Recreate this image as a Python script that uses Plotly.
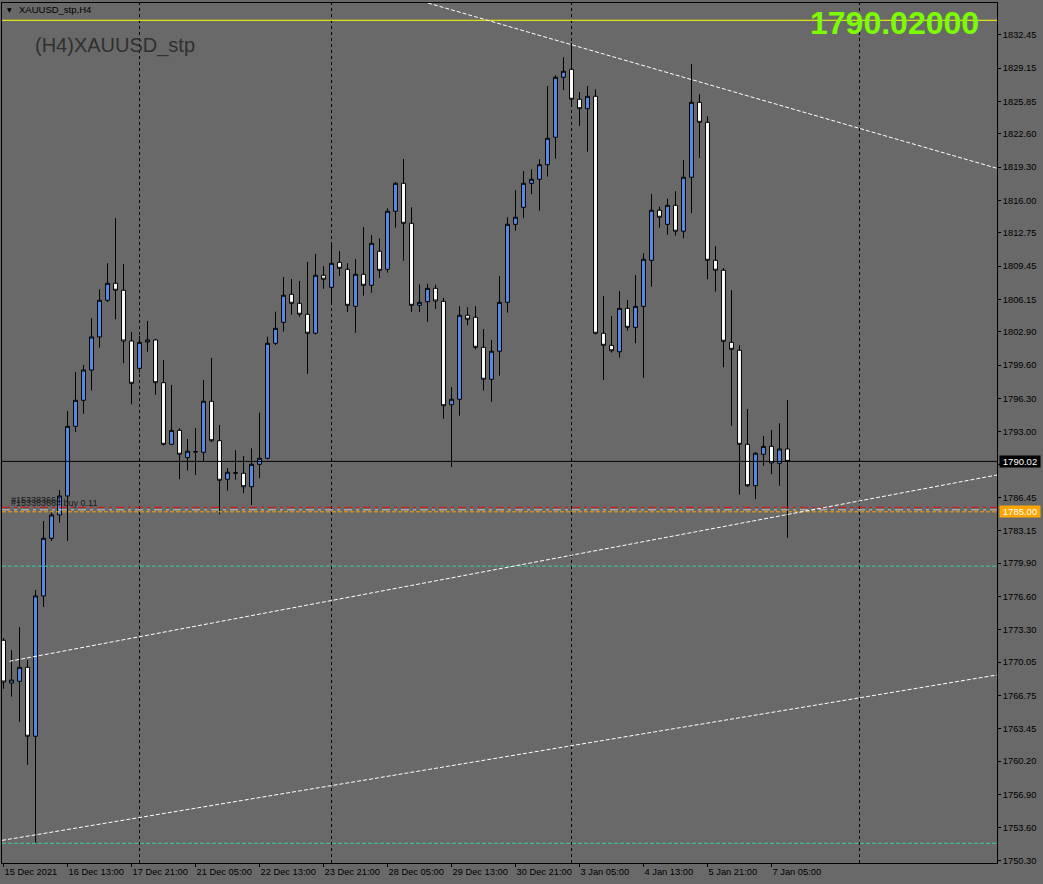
import plotly.graph_objects as go

# ---------------- data ----------------
bar_index = list(range(99))
open_ = [1772.22, 1767.97, 1768.14, 1769.53, 1762.67, 1776.63, 1782.37, 1784.69, 1786.58, 1793.51,
         1796.10, 1799.11, 1802.40, 1806.05, 1807.74, 1807.05, 1802.00, 1799.28, 1801.90, 1802.10,
         1797.85, 1791.72, 1793.11, 1790.39, 1791.00, 1790.93, 1796.00, 1792.08, 1788.24, 1788.90,
         1788.84, 1787.50, 1789.73, 1790.33, 1801.77, 1803.86, 1806.65, 1805.75, 1804.66, 1802.77,
         1808.54, 1807.34, 1809.83, 1809.13, 1805.45, 1808.64, 1807.54, 1810.93, 1809.13, 1814.91,
         1817.69, 1813.71, 1805.55, 1805.91, 1807.24, 1805.95, 1795.66, 1796.20, 1804.56, 1804.36,
         1801.37, 1798.19, 1800.98, 1805.85, 1813.61, 1815.30, 1817.69, 1818.09, 1819.54, 1822.27,
         1828.24, 1829.03, 1826.05, 1825.11, 1826.35, 1802.77, 1801.57, 1800.93, 1805.25, 1803.36,
         1805.45, 1810.03, 1815.01, 1813.61, 1815.50, 1812.92, 1818.29, 1825.75, 1823.76, 1810.03,
         1809.04, 1801.87, 1801.08, 1791.72, 1787.60, 1790.73, 1791.52, 1789.83, 1791.25]
high = [1772.45, 1771.25, 1773.54, 1770.26, 1777.22, 1784.09, 1785.02, 1787.17, 1795.04, 1798.92,
        1799.61, 1804.26, 1807.14, 1809.73, 1814.24, 1809.66, 1802.90, 1802.50, 1803.99, 1802.20,
        1800.11, 1797.62, 1793.31, 1792.25, 1793.34, 1798.12, 1800.31, 1793.64, 1789.36, 1791.15,
        1790.56, 1791.32, 1794.87, 1802.43, 1804.92, 1808.37, 1808.17, 1807.97, 1809.86, 1810.66,
        1809.46, 1811.82, 1810.96, 1809.73, 1810.16, 1813.34, 1812.55, 1812.20, 1815.20, 1817.82,
        1820.11, 1815.30, 1807.64, 1807.70, 1807.60, 1806.28, 1797.42, 1805.48, 1805.35, 1805.48,
        1803.19, 1802.10, 1808.47, 1814.31, 1817.00, 1818.89, 1819.08, 1820.08, 1827.37, 1828.44,
        1830.23, 1831.65, 1826.78, 1827.37, 1827.04, 1806.48, 1804.49, 1806.98, 1806.08, 1808.57,
        1810.73, 1816.63, 1815.36, 1816.16, 1816.90, 1820.01, 1829.56, 1826.55, 1824.36, 1811.42,
        1809.26, 1807.07, 1801.57, 1795.23, 1790.95, 1792.55, 1793.14, 1793.81, 1796.13]
low = [1767.40, 1766.61, 1764.12, 1759.84, 1752.02, 1775.53, 1782.10, 1783.92, 1782.10, 1792.95,
       1794.77, 1797.06, 1801.33, 1805.88, 1804.16, 1799.78, 1795.70, 1798.82, 1800.93, 1796.66,
       1791.60, 1791.65, 1788.24, 1789.10, 1788.67, 1790.03, 1791.95, 1784.76, 1787.11, 1788.20,
       1786.85, 1785.68, 1788.34, 1790.20, 1801.60, 1802.93, 1804.62, 1804.42, 1798.72, 1802.65,
       1807.20, 1805.65, 1808.47, 1804.89, 1802.83, 1806.51, 1806.81, 1808.30, 1808.80, 1813.27,
       1809.99, 1804.89, 1804.89, 1803.92, 1805.21, 1794.27, 1789.46, 1794.57, 1803.56, 1801.17,
       1797.06, 1795.96, 1798.55, 1804.82, 1812.98, 1814.21, 1816.60, 1814.97, 1818.35, 1820.14,
       1826.97, 1825.31, 1823.39, 1820.84, 1802.65, 1798.12, 1800.84, 1800.34, 1803.03, 1801.77,
       1798.35, 1807.40, 1813.27, 1812.58, 1812.48, 1812.22, 1814.71, 1820.24, 1808.14, 1806.91,
       1799.38, 1793.57, 1786.71, 1787.47, 1786.25, 1789.59, 1788.74, 1787.60, 1782.43]
close = [1768.07, 1768.27, 1769.53, 1762.67, 1776.63, 1782.37, 1784.69, 1786.58, 1793.51, 1796.10,
         1799.11, 1802.40, 1806.05, 1807.74, 1807.05, 1802.00, 1797.79, 1801.87, 1802.10, 1797.85,
         1791.72, 1793.11, 1790.73, 1791.03, 1790.97, 1796.00, 1792.08, 1788.14, 1788.94, 1788.85,
         1787.50, 1789.73, 1790.33, 1801.77, 1803.26, 1806.55, 1805.75, 1804.66, 1802.77, 1808.54,
         1808.14, 1809.73, 1809.23, 1805.55, 1808.64, 1807.54, 1811.72, 1809.03, 1814.91, 1817.69,
         1813.71, 1805.55, 1805.85, 1807.24, 1805.98, 1795.56, 1796.20, 1804.56, 1804.16, 1801.37,
         1798.19, 1800.98, 1805.85, 1813.61, 1814.31, 1817.69, 1818.09, 1819.54, 1822.17, 1828.24,
         1828.84, 1826.05, 1825.11, 1826.35, 1802.77, 1801.57, 1801.03, 1805.25, 1803.36, 1805.45,
         1810.13, 1815.01, 1814.31, 1815.50, 1812.92, 1818.29, 1825.75, 1823.76, 1810.03, 1809.04,
         1801.97, 1801.17, 1791.72, 1787.60, 1790.83, 1791.52, 1789.86, 1791.25, 1790.02]

time_tick_bars = [0, 8, 16, 24, 32, 40, 48, 56, 64, 72, 80, 88, 96]
time_tick_labels = ["15 Dec 2021", "16 Dec 13:00", "17 Dec 21:00", "21 Dec 05:00", "22 Dec 13:00",
                    "23 Dec 21:00", "28 Dec 05:00", "29 Dec 13:00", "30 Dec 21:00", "3 Jan 05:00",
                    "4 Jan 13:00", "5 Jan 21:00", "7 Jan 05:00"]
price_ticks = [1750.30, 1753.60, 1756.90, 1760.20, 1763.45, 1766.75, 1770.05, 1773.30, 1776.60,
               1779.90, 1783.15, 1786.45, 1789.70, 1793.00, 1796.30, 1799.60, 1802.90, 1806.15,
               1809.45, 1812.75, 1816.00, 1819.30, 1822.60, 1825.85, 1829.15, 1832.45]
grid_bars = [17, 41, 71, 107]

bid_price = 1790.02
order_price = 1785.00
sl_price = 1785.45
open_line_price = 1785.20
yellow_level = 1833.91
green_levels = [1779.60, 1752.02]

# trend lines: (bar0, price0, bar1, price1)
trend_down = [53.06, 1835.63, 124.19, 1819.18]
trend_up_upper = [0.73, 1770.13, 124.19, 1788.67]
trend_up_lower = [-0.19, 1752.31, 124.19, 1768.77]

x_range = [-0.19, 124.19]
y_range = [1750.06, 1835.63]

# ---------------- styling ----------------
BG = "#696969"
BLUE = "#5A8CE6"
FONT = "Liberation Sans, Arial, sans-serif"

fig = go.Figure()
fig.add_trace(go.Candlestick(
    x=bar_index, open=open_, high=high, low=low, close=close,
    increasing=dict(fillcolor=BLUE, line=dict(color="black", width=1)),
    decreasing=dict(fillcolor="white", line=dict(color="black", width=1)),
    whiskerwidth=0, hoverinfo="skip", showlegend=False,
))

shapes = []
for g in grid_bars:
    shapes.append(dict(type="line", xref="x", yref="paper", x0=g, x1=g, y0=0, y1=1,
                       line=dict(color="black", width=1, dash="3px,3px"), layer="below"))


def hline(price, color, dash="solid", width=1):
    return dict(type="line", xref="paper", yref="y", x0=0, x1=1, y0=price, y1=price,
                line=dict(color=color, width=width, dash=dash), layer="above")


shapes.append(hline(yellow_level, "#FFFF00", "solid", 1))
shapes.append(hline(bid_price, "black", "solid", 1))
shapes.append(hline(sl_price, "#E01010", "8px,4px,3px,4px", 1))
shapes.append(hline(open_line_price, "#C8C8C8", "8px,4px,3px,4px", 1))
shapes.append(hline(order_price, "#FFA500", "4px,2px", 1))
for gl in green_levels:
    shapes.append(hline(gl, "#3DCCA0", "4px,2px", 1))

for tl in (trend_down, trend_up_upper, trend_up_lower):
    shapes.append(dict(type="line", xref="x", yref="y", x0=tl[0], y0=tl[1], x1=tl[2], y1=tl[3],
                       line=dict(color="white", width=1, dash="4px,2px"), layer="above"))

annotations = [
    dict(text="1790.02", xref="paper", yref="y", x=1, y=bid_price, xanchor="left", yanchor="middle",
         xshift=2, showarrow=False, bgcolor="black", width=40, height=11, borderpad=0,
         font=dict(family=FONT, size=9.5, color="white")),
    dict(text="1785.00", xref="paper", yref="y", x=1, y=order_price, xanchor="left", yanchor="middle",
         xshift=2, showarrow=False, bgcolor="#FFA500", width=40, height=11, borderpad=0,
         font=dict(family=FONT, size=9.5, color="white")),
    dict(text="<b>1790.02000</b>", xref="paper", yref="paper", x=(808 - 2) / 995, y=(863 - 23) / 860,
         xanchor="left", yanchor="middle", showarrow=False,
         font=dict(family=FONT, size=32, color="#7CFC00")),
    dict(text="(H4)XAUUSD_stp", xref="paper", yref="paper", x=(33 - 2) / 995, y=(863 - 45) / 860,
         xanchor="left", yanchor="middle", showarrow=False,
         font=dict(family=FONT, size=20, color="#303030")),
    dict(text="XAUUSD_stp,H4", xref="paper", yref="paper", x=(17 - 2) / 995, y=(863 - 10) / 860,
         xanchor="left", yanchor="middle", showarrow=False,
         font=dict(family=FONT, size=9.5, color="black")),
    dict(text="▼", xref="paper", yref="paper", x=(5 - 2) / 995, y=(863 - 10) / 860,
         xanchor="left", yanchor="middle", showarrow=False,
         font=dict(family="DejaVu Sans", size=6, color="black")),
    dict(text="#153383664", xref="paper", yref="paper", x=(9 - 2) / 995, y=(863 - 500) / 860,
         xanchor="left", yanchor="middle", showarrow=False,
         font=dict(family=FONT, size=9, color="#1a1a1a")),
    dict(text="#153383664 buy 0.11", xref="paper", yref="paper", x=(9 - 2) / 995, y=(863 - 503) / 860,
         xanchor="left", yanchor="middle", showarrow=False,
         font=dict(family=FONT, size=9, color="#1a1a1a")),
]

# the 1789.70 label sits under the bid-price box in the reference
price_tick_text = ["" if abs(p - 1789.70) < 1e-6 else f"{p:.2f}" for p in price_ticks]

fig.update_layout(
    width=1043, height=884,
    paper_bgcolor=BG, plot_bgcolor=BG,
    margin=dict(l=2, r=46, t=3, b=21, pad=0, autoexpand=False),
    showlegend=False,
    shapes=shapes, annotations=annotations,
    font=dict(family=FONT, color="black"),
    xaxis=dict(range=x_range, rangeslider=dict(visible=False), showgrid=False, zeroline=False,
               showline=True, linecolor="black", linewidth=1, mirror=True,
               ticks="outside", ticklen=3, tickcolor="black", automargin=False,
               tickvals=time_tick_bars, ticktext=time_tick_labels, tickangle=0,
               ticklabelposition="outside right",
               tickfont=dict(family=FONT, size=9.3, color="black")),
    yaxis=dict(range=y_range, side="right", showgrid=False, zeroline=False,
               showline=True, linecolor="black", linewidth=1, mirror=True,
               ticks="outside", ticklen=3, tickcolor="black", automargin=False,
               tickvals=price_ticks, ticktext=price_tick_text,
               tickfont=dict(family=FONT, size=9.3, color="black")),
)

fig.write_html("out.html",
               config={"displayModeBar": False, "staticPlot": True},
               post_script="document.body.style.margin='0px';document.body.style.background='#696969';")
